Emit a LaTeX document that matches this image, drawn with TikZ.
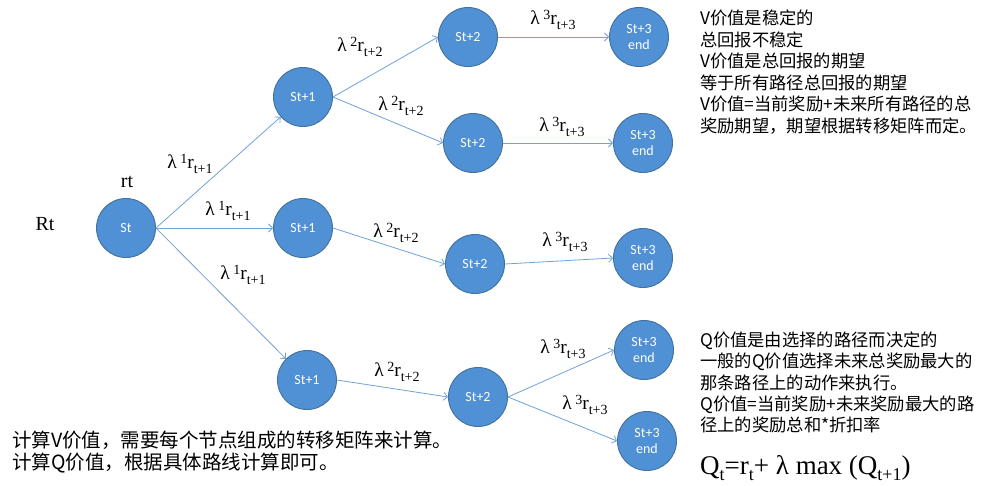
\documentclass[tikz,border=0pt]{standalone}
\usepackage{fontspec}
\setmainfont{Liberation Serif}
\newfontfamily\cjkfont{Noto Sans CJK SC}
\newfontfamily\nodefont{Carlito}
\usetikzlibrary{arrows.meta}
\definecolor{nodeblue}{HTML}{5090D5}
\definecolor{nodeedge}{HTML}{41719C}
\definecolor{linkblue}{HTML}{6FA3D9}
\newcommand{\lamr}[2]{{\fontsize{19.5}{19.5}\selectfont λ\hspace{3.5pt}\raisebox{5.5pt}{\fontsize{14}{14}\selectfont #1}r\raisebox{-5pt}{\fontsize{14}{14}\selectfont #2}}}
\tikzset{
  stnode/.style={circle, fill=nodeblue, draw=nodeedge, line width=0.9pt, minimum size=59pt, inner sep=0pt,
    text=white, font=\nodefont\fontsize{14}{16.5}\selectfont, align=center},
  link/.style={draw=linkblue, line width=0.8pt, -{Straight Barb[length=4pt,width=8pt,line width=0.8pt]}},
  lbl/.style={inner sep=0pt, anchor=center},
  rtext/.style={inner sep=0pt, anchor=base west, font=\cjkfont\fontsize{17.3}{17.3}\selectfont},
  btext/.style={inner sep=0pt, anchor=base west, font=\cjkfont\fontsize{19.5}{19.5}\selectfont},
}
\begin{document}
\begin{tikzpicture}[x=1pt,y=-1pt]
\fill[white] (0,0) rectangle (1001,485);
\useasboundingbox (0,0) rectangle (1001,485);

% nodes
\node[stnode] (st) at (126,228) {St};
\node[stnode] (a1) at (303,97) {St+1};
\node[stnode] (a2) at (303,228) {St+1};
\node[stnode] (a3) at (307,380) {St+1};
\node[stnode] (b1) at (468,37) {St+2};
\node[stnode] (b2) at (473,143) {St+2};
\node[stnode] (b3) at (475,264) {St+2};
\node[stnode] (b4) at (478,397) {St+2};
\node[stnode] (c1) at (639,37) {St+3\\end};
\node[stnode] (c2) at (643,143) {St+3\\end};
\node[stnode] (c3) at (643,258) {St+3\\end};
\node[stnode] (c4) at (644,350) {St+3\\end};
\node[stnode] (c5) at (647,441) {St+3\\end};

% connectors
\draw[link] (st.east) -- (a1);
\draw[link] (st.east) -- (a2.west);
\draw[link] (st.east) -- (a3);
\draw[link] (a1.east) -- (b1.west);
\draw[link] (a1.east) -- (b2.west);
\draw[link] (a2.east) -- (b3.west);
\draw[link] (a3.east) -- (b4.west);
\draw[link] (b1.east) -- (c1.west);
\draw[link] (b2.east) -- (c2.west);
\draw[link] (b3.east) -- (c3.west);
\draw[link] (b4.east) -- (c4.west);
\draw[link] (b4.east) -- (c5.west);

% edge labels
\node[lbl] (l1a) at (190,164) {\lamr{1}{t+1}};
\node[lbl] (l1b) at (228,211) {\lamr{1}{t+1}};
\node[lbl] (l1c) at (243,275) {\lamr{1}{t+1}};
\node[lbl] (l2a) at (360,47) {\lamr{2}{t+2}};
\node[lbl] (l2b) at (401,106) {\lamr{2}{t+2}};
\node[lbl] (l2c) at (396,233) {\lamr{2}{t+2}};
\node[lbl] (l2d) at (397,372) {\lamr{2}{t+2}};
\node[lbl] (l3a) at (553,20) {\lamr{3}{t+3}};
\node[lbl] (l3b) at (562,127) {\lamr{3}{t+3}};
\node[lbl] (l3c) at (565,242) {\lamr{3}{t+3}};
\node[lbl] (l3d) at (563,349) {\lamr{3}{t+3}};
\node[lbl] (l3e) at (585,405) {\lamr{3}{t+3}};

% Rt, rt
\node[lbl, font=\fontsize{20}{20}\selectfont] (Rt) at (45,224) {Rt};
\node[lbl, font=\fontsize{20}{20}\selectfont] (rt) at (127,182) {rt};

% right top text
\node[rtext] (v1) at (700,24.5) {V价值是稳定的};
\node[rtext] (v2) at (700,46.1) {总回报不稳定};
\node[rtext] (v3) at (700,67.7) {V价值是总回报的期望};
\node[rtext] (v4) at (700,89.3) {等于所有路径总回报的期望};
\node[rtext] (v5) at (700,110.9) {V价值=当前奖励+未来所有路径的总};
\node[rtext] (v6) at (700,132.5) {奖励期望，期望根据转移矩阵而定。};

% right bottom text
\node[rtext] (q1) at (700,346.5) {Q价值是由选择的路径而决定的};
\node[rtext] (q2) at (700,367.8) {一般的Q价值选择未来总奖励最大的};
\node[rtext] (q3) at (700,389.1) {那条路径上的动作来执行。};
\node[rtext] (q4) at (700,410.4) {Q价值=当前奖励+未来奖励最大的路};
\node[rtext] (q5) at (700,431.7) {径上的奖励总和*折扣率};

% formula
\node[inner sep=0pt, anchor=base west, font=\fontsize{27}{27}\selectfont] (qf) at (700,474)
  {Q\raisebox{-6pt}{\fontsize{18}{18}\selectfont t}=r\raisebox{-6pt}{\fontsize{18}{18}\selectfont t}+ λ max (Q\raisebox{-6pt}{\fontsize{18}{18}\selectfont t+1})};

% bottom left text
\node[btext] (w1) at (12,447.5) {计算V价值，需要每个节点组成的转移矩阵来计算。};
\node[btext] (w2) at (12,469.5) {计算Q价值，根据具体路线计算即可。};
\end{tikzpicture}
\end{document}
